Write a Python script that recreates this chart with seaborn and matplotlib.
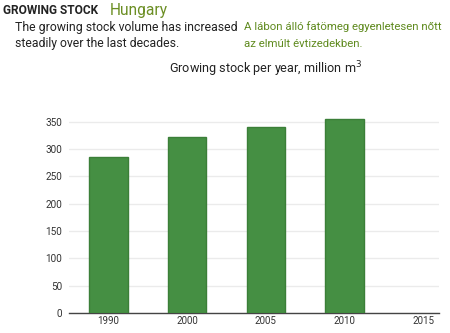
import matplotlib
matplotlib.use("Agg")
import matplotlib.pyplot as plt
import seaborn as sns
import pandas as pd

years = ["1990", "2000", "2005", "2010", "2015"]
stock = [286, 323, 340, 355, None]
y_ticks = [0, 50, 100, 150, 200, 250, 300, 350]

sns.set_theme(style="white")
plt.rcParams["font.family"] = ["Roboto", "DejaVu Sans"]

df = pd.DataFrame({"year": years, "stock": stock})

fig = plt.figure(figsize=(4.5, 3.33), dpi=100)
ax = fig.add_axes([69/450, 1 - 313/333, (439-69)/450, (313-112)/333])

sns.barplot(data=df, x="year", y="stock", order=years, color="#458f43",
            edgecolor="#3b7f38", linewidth=1.0, width=0.49, saturation=1,
            ax=ax, zorder=3)

ax.set_xlim(-0.5, 4.2)
ax.set_ylim(0, 368)
ax.set_yticks(y_ticks)
ax.set_yticklabels([str(v) for v in y_ticks])
ax.grid(axis="y", color="#ebebeb", linewidth=1.0, zorder=0)
ax.set_axisbelow(True)
for s in ["top", "right", "left"]:
    ax.spines[s].set_visible(False)
ax.spines["bottom"].set_color("#444444")
ax.spines["bottom"].set_linewidth(1.0)
ax.tick_params(axis="x", direction="in", length=3, width=0.8, color="#555555",
               labelsize=7, labelcolor="#333333", pad=2)
ax.tick_params(axis="y", length=0, labelsize=7.2, labelcolor="#333333", pad=5)
ax.set_xlabel("")
ax.set_ylabel("")

fig.text(3/450, 1 - 10/333, "GROWING STOCK", fontsize=8.6, fontweight="bold",
         color="#222222", va="center", ha="left")
fig.text(110/450, 1 - 10/333, "Hungary", fontsize=11.2, color="#6b8e23",
         va="center", ha="left")
fig.text(15/450, 1 - 27/333, "The growing stock volume has increased", fontsize=8.8,
         color="#222222", va="center", ha="left")
fig.text(15/450, 1 - 44/333, "steadily over the last decades.", fontsize=8.8,
         color="#222222", va="center", ha="left")
fig.text(244/450, 1 - 27/333, "A lábon álló fatömeg egyenletesen nőtt", fontsize=8.2,
         color="#5f8a1e", va="center", ha="left")
fig.text(244/450, 1 - 44/333, "az elmúlt évtizedekben.", fontsize=8.2,
         color="#5f8a1e", va="center", ha="left")
fig.text(266/450, 1 - 69/333, "Growing stock per year, million m$^3$", fontsize=9.1,
         color="#222222", va="center", ha="center")

fig.savefig("out.png", dpi=100)
